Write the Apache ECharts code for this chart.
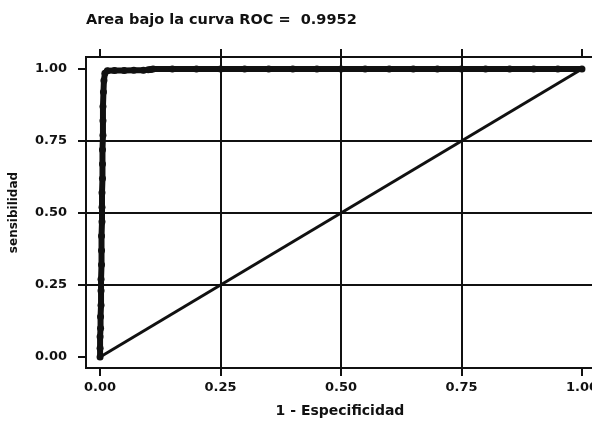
<!DOCTYPE html>
<html><head><meta charset="utf-8">
<script src="https://cdn.jsdelivr.net/npm/echarts@6/dist/echarts.min.js"></script>
<style>html,body{margin:0;padding:0;background:#fff}#c{width:592px;height:422px}</style>
</head><body><div id="c"></div>
<script>
const titleText = 'Area bajo la curva ROC =  0.9952';
const xName = '1 - Especificidad';
const yName = 'sensibilidad';
const tickValues = [0, 0.25, 0.5, 0.75, 1];
const tickLabels = ['0.00', '0.25', '0.50', '0.75', '1.00'];
const gridValues = [0.25, 0.5, 0.75];
// ROC curve points (1 - specificity, sensitivity)
const fpr = [0, 0, 0, 0.001, 0.001, 0.002, 0.002, 0.002, 0.003, 0.003, 0.003, 0.004, 0.004, 0.004, 0.005, 0.005, 0.005, 0.006, 0.006, 0.006, 0.007, 0.008, 0.010, 0.015, 0.03, 0.05, 0.07, 0.09, 0.10, 0.105, 0.11, 0.15, 0.2, 0.25, 0.3, 0.35, 0.4, 0.45, 0.5, 0.55, 0.6, 0.65, 0.7, 0.75, 0.8, 0.85, 0.9, 0.95, 1.0];
const tpr = [0, 0.03, 0.07, 0.10, 0.14, 0.18, 0.23, 0.27, 0.32, 0.37, 0.42, 0.47, 0.52, 0.57, 0.62, 0.67, 0.72, 0.77, 0.82, 0.87, 0.92, 0.96, 0.985, 0.994, 0.995, 0.995, 0.996, 0.996, 0.997, 0.998, 1.0, 1.0, 1.0, 1.0, 1.0, 1.0, 1.0, 1.0, 1.0, 1.0, 1.0, 1.0, 1.0, 1.0, 1.0, 1.0, 1.0, 1.0, 1.0];
// reference diagonal
const refX = [0, 1];
const refY = [0, 1];

const chart = echarts.init(document.getElementById('c'), null, {renderer: 'canvas'});
const FONT = 'DejaVu Sans';
const INK = '#111';
const labelFmt = v => { const i = tickValues.indexOf(v); return i >= 0 ? tickLabels[i] : ''; };
const gridLineData = gridValues.map(v => ({xAxis: v})).concat(gridValues.map(v => ({yAxis: v})));
chart.setOption({
  animation: false,
  backgroundColor: '#fff',
  title: {
    text: titleText, left: 81, top: 8,
    textStyle: {fontFamily: FONT, fontWeight: 'bold', fontSize: 14.5, color: INK}
  },
  grid: {left: 86, right: -2, top: 57, bottom: 54, outerBoundsMode: 'none', containLabel: false,
    show: true, borderColor: INK, borderWidth: 2, backgroundColor: 'transparent'},
  xAxis: [{
    type: 'value', position: 'bottom', min: -0.0292, max: 1.025,
    axisLine: {show: true, onZero: false, lineStyle: {color: INK, width: 2}},
    axisTick: {show: true, customValues: tickValues, length: 8, lineStyle: {color: INK, width: 2}},
    axisLabel: {customValues: tickValues, formatter: labelFmt, margin: 13, fontFamily: FONT, fontWeight: 'bold', fontSize: 13, color: INK},
    splitLine: {show: false},
    name: xName, nameLocation: 'middle', nameGap: 36,
    nameTextStyle: {fontFamily: FONT, fontWeight: 'bold', fontSize: 14, color: INK}
  }, {
    type: 'value', position: 'top', min: -0.0292, max: 1.025,
    axisLine: {show: false, onZero: false},
    axisTick: {show: true, inside: false, customValues: tickValues, length: 8, lineStyle: {color: INK, width: 2}},
    axisLabel: {show: false},
    splitLine: {show: false}
  }],
  yAxis: [{
    type: 'value', min: -0.0382, max: 1.0417,
    axisLine: {show: true, onZero: false, lineStyle: {color: INK, width: 2}},
    axisTick: {show: true, customValues: tickValues, length: 8, lineStyle: {color: INK, width: 2}},
    axisLabel: {customValues: tickValues, formatter: labelFmt, margin: 19, fontFamily: FONT, fontWeight: 'bold', fontSize: 13, color: INK},
    splitLine: {show: false},
    name: yName, nameLocation: 'middle', nameGap: 66, nameRotate: 90,
    nameTextStyle: {fontFamily: FONT, fontWeight: 'bold', fontSize: 12, color: INK}
  }],
  series: [{
    type: 'line', xAxisIndex: 0, data: refX.map((x, i) => [x, refY[i]]),
    showSymbol: false, lineStyle: {color: INK, width: 3}, z: 3,
    markLine: {
      silent: true, symbol: ['none', 'none'], label: {show: false},
      lineStyle: {color: INK, width: 2, type: 'solid'},
      emphasis: {disabled: true},
      data: gridLineData, z: 1
    }
  }, {
    type: 'line', xAxisIndex: 0, data: fpr.map((x, i) => [x, tpr[i]]),
    symbol: 'circle', symbolSize: 7, showAllSymbol: true,
    itemStyle: {color: INK, borderWidth: 0},
    lineStyle: {color: INK, width: 6}, z: 4
  }]
});
</script></body></html>
